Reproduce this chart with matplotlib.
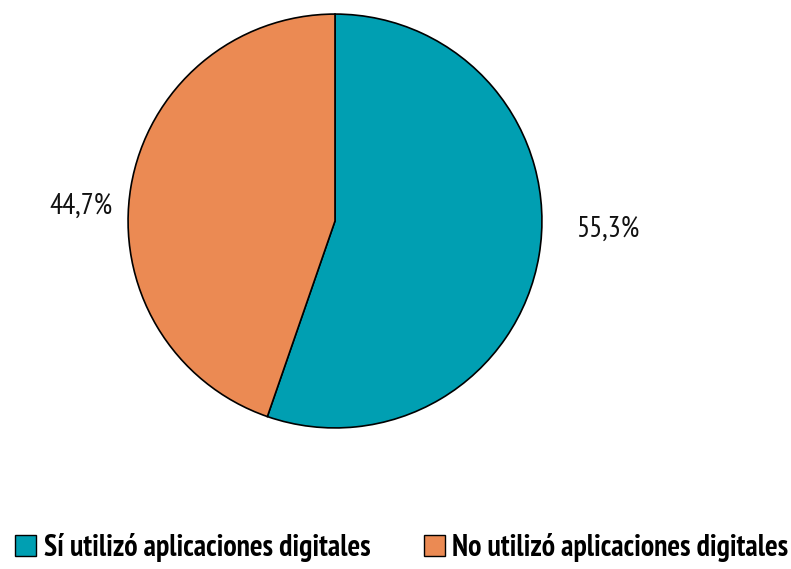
import matplotlib
matplotlib.use("Agg")
import matplotlib.pyplot as plt
from matplotlib.patches import Patch

# ── Data ──────────────────────────────────────────────────────────────────────
categories = ["Sí utilizó aplicaciones digitales", "No utilizó aplicaciones digitales"]
values = [55.3, 44.7]
value_labels = ["55,3%", "44,7%"]
colors = ["#009fb2", "#eb8a53"]

FONT = ["PT Sans Narrow", "DejaVu Sans"]

fig = plt.figure(figsize=(7.91, 5.69), dpi=100)
ax = fig.add_axes([126 / 791, 139 / 569, 418 / 791, 418 / 569])

wedges, _ = ax.pie(
    values,
    colors=colors,
    startangle=90,
    counterclock=False,
    wedgeprops=dict(edgecolor="black", linewidth=1.2),
    radius=1.0,
)
ax.set_xlim(-1.01, 1.01)
ax.set_ylim(-1.01, 1.01)

# label positions (relative to pie radius)
label_pos = [(1.32, -0.04), (-1.23, 0.07)]
for (x, y), txt in zip(label_pos, value_labels):
    ax.text(x, y, txt, ha="center", va="center", fontsize=21, family=FONT, color="#111111")

handles = [Patch(facecolor=c, edgecolor="black", linewidth=1.0) for c in colors]
fig.legend(
    handles, categories,
    loc="lower center", bbox_to_anchor=(0.508, -0.035), ncol=2, frameon=False,
    prop=dict(family=FONT, weight="bold", size=21.5),
    handlelength=0.7, handleheight=0.7, handletextpad=0.25, columnspacing=1.8,
)

fig.savefig("out.png", dpi=100)
